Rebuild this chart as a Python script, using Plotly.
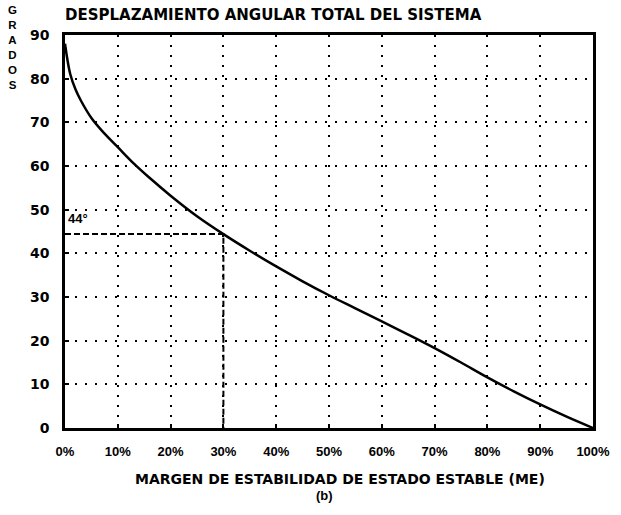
import plotly.graph_objects as go

# Steady-state stability margin (%) vs. total system angular displacement (degrees)
margin_pct = [0, 1, 2, 3, 5, 7.5, 10, 13, 16, 20, 25, 30, 35, 40, 45, 50,
              55, 60, 65, 70, 75, 80, 85, 90, 95, 100]
angle_deg = [88, 81, 77.5, 75, 71, 67.4, 64.3, 60.6, 57.3, 53.2, 48.5, 44.4,
             40.6, 37.0, 33.6, 30.4, 27.4, 24.4, 21.4, 18.3, 15.0, 11.6, 8.4,
             5.4, 2.6, 0]

# Highlighted operating point
mark_margin = 30
mark_angle = 44.4
mark_label = "44°"

x_ticks = [0, 10, 20, 30, 40, 50, 60, 70, 80, 90, 100]
x_tick_text = ["0%", "10%", "20%", "30%", "40%", "50%", "60%", "70%", "80%", "90%", "100%"]
y_ticks = [0, 10, 20, 30, 40, 50, 60, 70, 80, 90]

title_text = "DESPLAZAMIENTO ANGULAR TOTAL DEL SISTEMA"
x_title = "MARGEN DE ESTABILIDAD DE ESTADO ESTABLE (ME)"
y_title = "GRADOS"
sub_label = "(b)"

FONT = "Liberation Sans"
WIDE_FONT = "DejaVu Sans"

fig = go.Figure()

# Dashed guide lines to the marked point
fig.add_trace(go.Scatter(
    x=[0, mark_margin, mark_margin], y=[mark_angle, mark_angle, 0],
    mode="lines", line=dict(color="black", width=2, dash="6px,3px"),
    hoverinfo="skip", showlegend=False))

# Main curve
fig.add_trace(go.Scatter(
    x=margin_pct, y=angle_deg, mode="lines",
    line=dict(color="black", width=2.5, shape="spline", smoothing=1),
    showlegend=False))

axis_common = dict(
    showline=True, linecolor="black", linewidth=2.5, mirror=True,
    showgrid=True, gridcolor="black", gridwidth=2, griddash="2px,8px",
    zeroline=False, ticks="inside", ticklen=4, tickwidth=2, tickcolor="black",
)

fig.update_xaxes(range=[0, 100], tickvals=x_ticks, ticktext=x_tick_text,
                 ticklabelstandoff=10,
                 tickfont=dict(family=FONT, size=13, color="black", weight="bold"),
                 **axis_common)
fig.update_yaxes(range=[0, 90], tickvals=y_ticks, ticklabelstandoff=10,
                 tickfont=dict(family=WIDE_FONT, size=14, color="black", weight="bold"),
                 **axis_common)

annotations = [
    dict(text=title_text, xref="paper", yref="paper", x=-0.004, y=1.051,
         xanchor="left", yanchor="middle", showarrow=False,
         font=dict(family=WIDE_FONT, size=15, color="black", weight="bold")),
    dict(text=x_title, xref="paper", yref="paper", x=0.521, y=-0.13,
         xanchor="center", yanchor="middle", showarrow=False,
         font=dict(family=WIDE_FONT, size=14, color="black", weight="bold")),
    dict(text=sub_label, xref="paper", yref="paper", x=0.492, y=-0.172,
         xanchor="center", yanchor="middle", showarrow=False,
         font=dict(family=FONT, size=13, color="black", weight="bold")),
    dict(text="<br>".join(y_title), xref="paper", yref="paper", x=-0.1,
         y=1.085, xanchor="center", yanchor="top", showarrow=False,
         align="center",
         font=dict(family=FONT, size=11.5, color="black", weight="bold")),
    dict(text=mark_label, x=0, y=mark_angle, xanchor="left",
         yanchor="bottom", xshift=1, yshift=6, showarrow=False,
         font=dict(family=FONT, size=13, color="black", weight="bold")),
]
fig.update_layout(
    width=621, height=515,
    margin=dict(l=65, r=28, t=35, b=87),
    paper_bgcolor="white", plot_bgcolor="white",
    annotations=annotations,
)

fig.write_html("out.html")
